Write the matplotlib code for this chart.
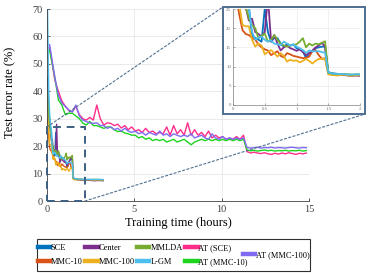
import matplotlib
matplotlib.use('Agg')
import matplotlib.pyplot as plt
from matplotlib.patches import Rectangle, ConnectionPatch
from matplotlib.lines import Line2D

plt.rcParams['font.family'] = ['Liberation Serif', 'DejaVu Serif']

# ---------------- data ----------------
t_fast = [0.03, 0.10, 0.15, 0.20, 0.25, 0.30, 0.35, 0.40, 0.45, 0.50, 0.55, 0.60, 0.65, 0.70,
          0.75, 0.80, 0.85, 0.90, 0.95, 1.00, 1.05, 1.10, 1.15, 1.20, 1.25, 1.30, 1.35, 1.40,
          1.45, 1.50, 1.55, 1.65, 1.75, 1.85, 1.95, 2.10, 2.40, 2.70, 3.00, 3.20]

sce = [45, 33, 29, 27, 25.5, 18, 17.5, 17, 16.5, 25, 19, 16.5, 17.5, 17.4, 16, 15.2, 15.8, 15.5,
       15.8, 14.8, 14.5, 14, 12.2, 13.5, 14, 14.8, 15, 15.2, 15.2, 8.6, 8.3, 8.1, 7.9, 7.7, 7.8,
       7.6, 7.7, 7.5, 7.6, 7.5]
center = [40, 30, 27, 25.5, 22, 22.5, 19, 18.5, 17.8, 19, 28, 16.5, 18.2, 16, 14.2, 15, 15.5, 14.8,
          14.5, 14.1, 14.5, 13.8, 13, 13.5, 14.2, 15, 15.5, 16.2, 15.2, 8.3, 8.1, 7.9, 7.8, 7.6,
          7.7, 7.5, 7.6, 7.4, 7.5, 7.4]
mmlda = [40, 31, 28, 25.5, 22.6, 20.8, 20, 17.4, 18, 18.6, 16.5, 17, 18.2, 17, 16, 15.5, 15.2,
         15.5, 15.6, 15.8, 16.5, 17.4, 15, 16, 15.5, 16, 15.8, 16.2, 16.6, 8.4, 8.2, 8.0, 8.1,
         7.9, 8.0, 7.9, 7.8, 7.9, 7.8, 7.7]
mmc10 = [30, 23.4, 19.5, 18.5, 18.2, 17.5, 17, 15.8, 15, 14.5, 14.2, 13, 13.5, 14, 12.8, 12.4,
         13.5, 13.2, 12.8, 12.6, 12.4, 12.2, 12.3, 12.6, 14, 14.3, 13, 12, 12.2, 8.2, 8.0, 7.9,
         7.8, 7.9, 7.7, 7.8, 7.6, 7.7, 7.6, 7.7]
mmc100 = [35, 26, 20.8, 20.5, 20.5, 17, 15.2, 16, 15.5, 13.2, 13.8, 14.3, 13.5, 12.6, 13.5, 12.8,
          11.3, 11.8, 11.5, 11.6, 11.1, 11.5, 12, 11.5, 10.8, 11.5, 12, 12, 12, 8.0, 7.8, 7.7,
          7.9, 7.6, 7.8, 7.7, 7.8, 7.6, 7.7, 7.6]
lgm = [70, 40, 32, 28, 25.5, 19.1, 17, 17.5, 17.8, 17, 16.5, 16.8, 16, 15.8, 15.6, 16.5, 16, 15.5,
       15.7, 15.2, 14.8, 14.3, 13.6, 14.2, 14, 14, 14, 13.8, 13.6, 8.5, 8.2, 8.1, 8.0, 7.9, 8.0,
       7.8, 7.9, 7.8, 7.9, 7.8]

t_at = [0.15, 0.45, 0.65, 0.85, 1.05, 1.25, 1.45, 1.65, 1.85, 2.05, 2.25, 2.45, 2.65, 2.85,
        3.05, 3.25, 3.45, 3.65, 3.85, 4.05, 4.25, 4.45, 4.65, 4.85, 5.05, 5.25, 5.45, 5.65,
        5.85, 6.05, 6.25, 6.45, 6.65, 6.85, 7.05, 7.25, 7.45, 7.65, 7.85, 8.05, 8.25, 8.45,
        8.65, 8.85, 9.05, 9.25, 9.45, 9.65, 9.85, 10.05, 10.25, 10.45, 10.65, 10.85, 11.05,
        11.25, 11.45, 11.65, 11.85, 12.05, 12.25, 12.45, 12.65, 12.85, 13.05, 13.25, 13.45,
        13.65, 13.85, 14.05, 14.25, 14.45, 14.65, 14.85]

at_sce = [56, 44, 40, 36.5, 34.5, 33, 32.5, 34.5, 31.5, 30, 29.5, 30.5, 29.5, 35, 30, 27.7,
          28.5, 28.3, 27.5, 28, 26.6, 27.5, 26, 27, 25.5, 26, 25, 26.5, 25, 25.5, 24.5, 25,
          24.5, 27, 24, 27.5, 24.5, 26, 24, 28.5, 24, 26, 24, 25, 23.5, 25.5, 23, 24, 23, 23.5,
          22.5, 23, 22.5, 23.5, 22.5, 24, 18, 17.5, 17.8, 17.5, 17.3, 17.6, 17.2, 17.0, 17.4,
          17.1, 17.5, 17.2, 17.6, 17.3, 17.0, 17.4, 17.2, 17.5]
at_mmc100 = [57, 45, 38.5, 35.7, 34.5, 33.2, 32.5, 35, 31, 29.5, 29, 28.5, 28.3, 28.5, 27.5,
             27.5, 26.5, 27, 26, 26.5, 25.5, 26.5, 25.5, 25, 25.5, 24.5, 25, 24, 25, 24.5, 24,
             25.5, 24, 24.5, 23.5, 24.5, 24, 23.5, 24, 23.5, 24.5, 23, 23.5, 24, 23, 22.5, 24.5,
             23, 22.5, 23.5, 22.5, 23, 22.5, 23, 22.5, 23, 19.5, 19.3, 19.4, 19.6, 19.3, 19.5,
             19.4, 19.6, 19.3, 19.5, 19.4, 19.3, 19.5, 19.6, 19.4, 19.3, 19.5, 19.4]
at_mmc10 = [55, 45, 36.8, 35, 31.4, 32, 32, 31, 30, 28.4, 27.7, 29, 27.5, 27.5, 27, 26.5, 27,
            27, 26, 25.3, 25.5, 24.8, 24.5, 24, 24, 23, 23.5, 22.5, 23, 22, 22.5, 22, 22.5, 21.5,
            22, 22.5, 21.5, 22, 22.5, 21.5, 20.5, 21.5, 22, 22.5, 22, 22.5, 22, 22.5, 22, 22.5,
            22, 22.5, 22, 22.5, 22, 22.5, 18.6, 18.3, 18.5, 18.2, 18.4, 18.6, 18.3, 18.5, 18.2,
            18.4, 18.3, 18.5, 18.2, 18.4, 18.3, 18.5, 18.2, 18.4]

fast_series = [("SCE", sce, "#0072BD"), ("MMC-10", mmc10, "#D95319"),
               ("Center", center, "#7E2F8E"), ("MMC-100", mmc100, "#EDB120"),
               ("MMLDA", mmlda, "#77AC30"), ("L-GM", lgm, "#4DBEEE")]
at_series = [("AT (SCE)", at_sce, "#FF2D8A"), ("AT (MMC-10)", at_mmc10, "#1ED41E"),
             ("AT (MMC-100)", at_mmc100, "#7F6BF0")]
legend_main = ["SCE", "MMC-10", "Center", "MMC-100", "MMLDA", "L-GM",
               "AT (SCE)", "AT (MMC-10)"]
legend_extra = ["AT (MMC-100)"]

# ---------------- figure ----------------
fig = plt.figure(figsize=(3.74, 2.73), dpi=100)
ax = fig.add_axes([0.1257, 0.2637, 0.7005, 0.7033])

grid_c = '#e6e6e6'
axis_c = '#404040'
colors = {}
for name, vals, col in fast_series:
    ax.plot(t_fast, vals, color=col, lw=1.0)
    colors[name] = col
for name, vals, col in at_series:
    ax.plot(t_at, vals, color=col, lw=1.0)
    colors[name] = col

ax.set_xlim(0, 15)
ax.set_ylim(0, 70)
ax.set_xticks([0, 5, 10, 15])
ax.set_yticks([0, 10, 20, 30, 40, 50, 60, 70])
ax.grid(True, color=grid_c, lw=0.6)
ax.set_axisbelow(True)
for s in ['top', 'right']:
    ax.spines[s].set_visible(False)
for s in ['left', 'bottom']:
    ax.spines[s].set_color(axis_c)
    ax.spines[s].set_linewidth(0.6)
ax.tick_params(direction='in', length=2.5, width=0.6, colors=axis_c, labelsize=7.5, pad=3)
ax.set_xlabel('Training time (hours)', fontsize=9, labelpad=2)
ax.set_ylabel('Test error rate (%)', fontsize=9)
ax.yaxis.set_label_coords(-0.118, 0.565)

rect_c = '#3d5f82'
ax.add_patch(Rectangle((0, 0), 2.17, 27, fill=False, ls=(0, (4, 3)), edgecolor=rect_c,
                       lw=1.4, zorder=5, clip_on=False))

# inset frame
frame_box = [0.5963, 0.5824, 0.3797, 0.392]
fr = Rectangle((frame_box[0], frame_box[1]), frame_box[2], frame_box[3],
               transform=fig.transFigure, facecolor='white', edgecolor='#4f6f90',
               lw=1.4, zorder=3)
fig.add_artist(fr)

con1 = ConnectionPatch(xyA=(0, 27), coordsA=ax.transData,
                       xyB=(frame_box[0], frame_box[1] + frame_box[3]), coordsB=fig.transFigure,
                       color='#4f6f90', lw=0.8, ls=(0, (2, 2)), zorder=2.5)
con2 = ConnectionPatch(xyA=(2.17, 0), coordsA=ax.transData,
                       xyB=(frame_box[0] + frame_box[2], frame_box[1]), coordsB=fig.transFigure,
                       color='#4f6f90', lw=0.8, ls=(0, (2, 2)), zorder=2.5)
fig.add_artist(con1)
fig.add_artist(con2)

ax2 = fig.add_axes([0.623, 0.6154, 0.3396, 0.3516], zorder=4)
for name, vals, col in fast_series:
    ax2.plot(t_fast, vals, color=col, lw=1.3)
ax2.set_xlim(0, 2)
ax2.set_ylim(0, 25)
ax2.set_xticks([0, 0.5, 1, 1.5, 2])
ax2.set_xticklabels(['0', '0.5', '1', '1.5', '2'])
ax2.set_yticks([0, 5, 10, 15, 20, 25])
ax2.grid(True, color='#ececec', lw=0.5)
ax2.set_axisbelow(True)
for s in ['top', 'right']:
    ax2.spines[s].set_visible(False)
for s in ['left', 'bottom']:
    ax2.spines[s].set_color('#808080')
    ax2.spines[s].set_linewidth(0.5)
ax2.tick_params(direction='in', length=1.5, width=0.4, colors='#707070', labelsize=3.5, pad=1.5)

# legend: frame + two frameless legends
leg_box = [0.0989, 0.0073, 0.730, 0.1172]
fig.add_artist(Rectangle((leg_box[0], leg_box[1]), leg_box[2], leg_box[3],
                         transform=fig.transFigure, fill=False, edgecolor='#303030', lw=0.8))
ymid = leg_box[1] + leg_box[3] / 2
kw = dict(fontsize=6, frameon=False, handlelength=1.45, handletextpad=0.1,
          borderpad=0, borderaxespad=0, labelspacing=0.75, columnspacing=0.35)
h1 = [Line2D([0], [0], color=colors[n], lw=3.2) for n in legend_main]
fig.legend(h1, legend_main, ncol=4, loc='center left',
           bbox_to_anchor=(leg_box[0] + 0.002, ymid), **kw)
h2 = [Line2D([0], [0], color=colors[n], lw=3.2) for n in legend_extra]
fig.legend(h2, legend_extra, ncol=1, loc='center right',
           bbox_to_anchor=(leg_box[0] + leg_box[2] - 0.002, ymid), **kw)

fig.savefig('out.png', dpi=100)
